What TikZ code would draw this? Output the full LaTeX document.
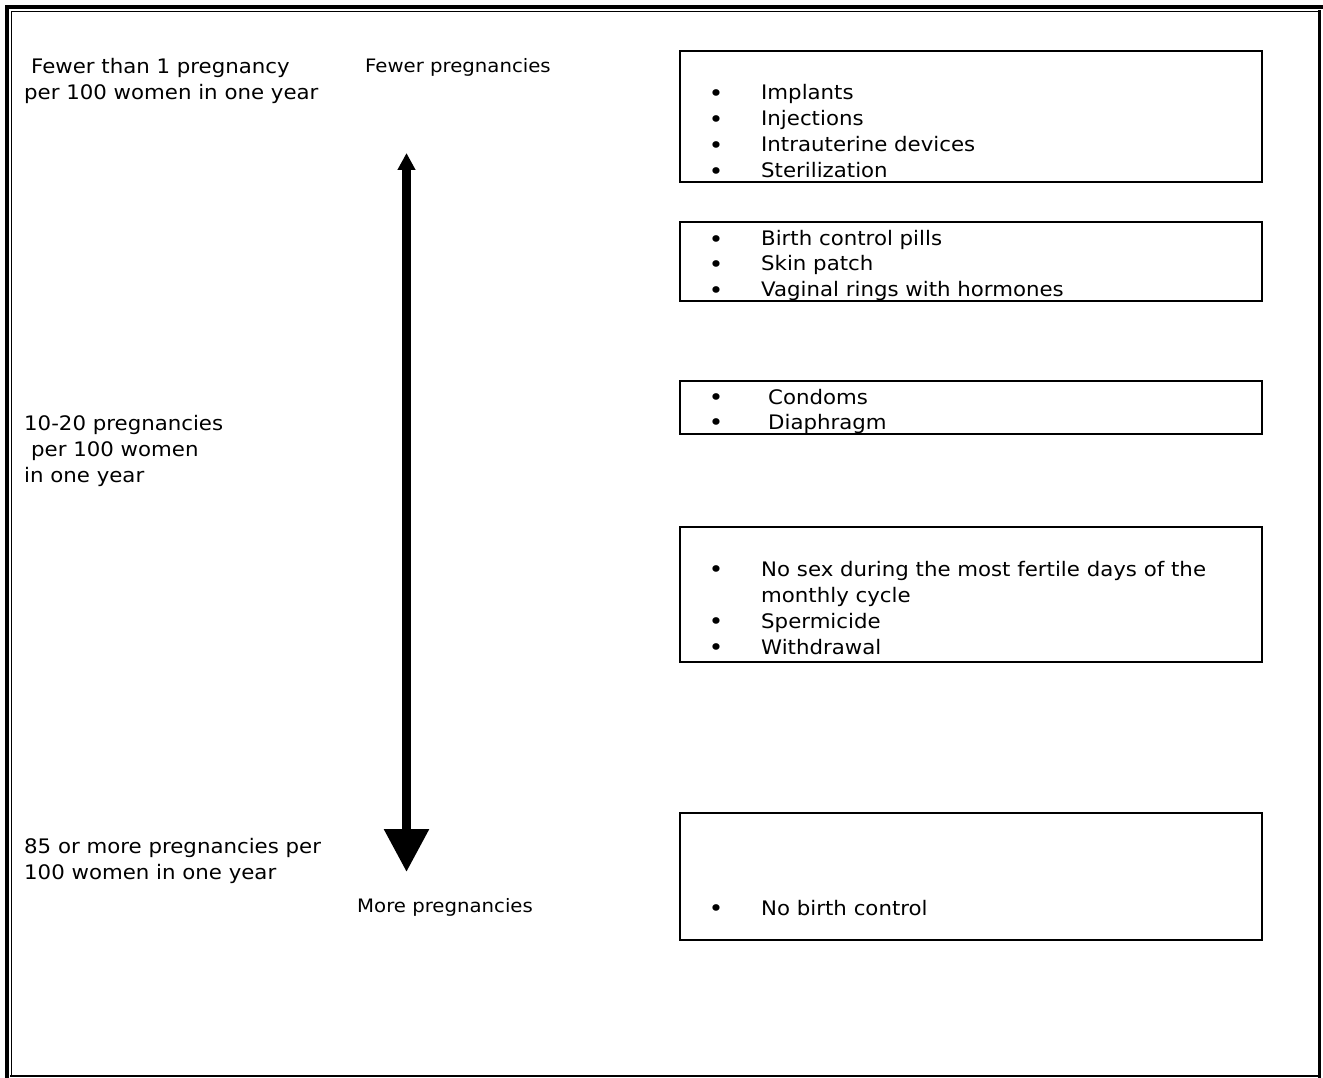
\documentclass[tikz,border=0pt]{standalone}
\usepackage{fontspec}
\setmainfont{DejaVu Sans}[FakeStretch=1.065]
\usetikzlibrary{arrows.meta}
\tikzset{
  lbl/.style={inner sep=0pt, anchor=base west, font=\fontsize{20}{26}\selectfont},
  small/.style={inner sep=0pt, anchor=base west, font=\fontsize{18.5}{24}\selectfont},
  bul/.style={inner sep=0pt, anchor=base, yshift=-1.5pt, font=\fontsize{23}{26}\selectfont},
  box/.style={draw, line width=2pt},
}
\begin{document}
\begin{tikzpicture}[x=1pt,y=-1pt]
\useasboundingbox (0,0) rectangle (1323,1078);
% page border
\draw[line width=4pt] (7,1078) -- (7,7) -- (1323,7);
\draw[line width=1.5pt] (11.5,1076) -- (11.5,11.5) -- (1319.5,11.5);
\draw[line width=3pt] (1319.5,10) -- (1319.5,1077.5);
\draw[line width=2.5pt] (10,1076) -- (1321,1076);
% left labels
\node[lbl] (l1a) at (31,74) {Fewer than 1 pregnancy};
\node[lbl] (l1b) at (24,100) {per 100 women in one year};
\node[lbl] (l2a) at (24,430) {10-20 pregnancies};
\node[lbl] (l2b) at (31,456) {per 100 women};
\node[lbl] (l2c) at (24,482) {in one year};
\node[lbl] (l3a) at (24,853) {85 or more pregnancies per};
\node[lbl] (l3b) at (24,879) {100 women in one year};
% arrow labels
\node[small] (fewer) at (365,73) {Fewer pregnancies};
\node[small] (more) at (357,912) {More pregnancies};
% arrow
\coordinate (atop) at (406.5,153);
\coordinate (abot) at (406.5,872);
\draw[line width=9pt, line cap=butt,
  {Triangle[width=17pt,length=17pt]}-{Triangle[width=43pt,length=43pt]}] (atop) -- (abot);
% boxes
\draw[box] (680,51) rectangle (1262,182);
\draw[box] (680,222) rectangle (1262,301);
\draw[box] (680,381) rectangle (1262,434);
\draw[box] (680,527) rectangle (1262,662);
\draw[box] (680,813) rectangle (1262,940);
% box 1
\node[bul] (b1a) at (716,100) {•}; \node[lbl] (t1a) at (761,100) {Implants};
\node[bul] (b1b) at (716,126) {•}; \node[lbl] (t1b) at (761,126) {Injections};
\node[bul] (b1c) at (716,152) {•}; \node[lbl] (t1c) at (761,152) {Intrauterine devices};
\node[bul] (b1d) at (716,178) {•}; \node[lbl] (t1d) at (761,178) {Sterilization};
% box 2
\node[bul] (b2a) at (716,246) {•}; \node[lbl] (t2a) at (761,246) {Birth control pills};
\node[bul] (b2b) at (716,271) {•}; \node[lbl] (t2b) at (761,271) {Skin patch};
\node[bul] (b2c) at (716,297) {•}; \node[lbl] (t2c) at (761,297) {Vaginal rings with hormones};
% box 3
\node[bul] (b3a) at (716,404) {•}; \node[lbl] (t3a) at (768,404) {Condoms};
\node[bul] (b3b) at (716,429) {•}; \node[lbl] (t3b) at (768,429) {Diaphragm};
% box 4
\node[bul] (b4a) at (716,576) {•}; \node[lbl] (t4a) at (761,576) {No sex during the most fertile days of the};
\node[lbl] (t4b) at (761,602) {monthly cycle};
\node[bul] (b4c) at (716,628) {•}; \node[lbl] (t4c) at (761,628) {Spermicide};
\node[bul] (b4d) at (716,654) {•}; \node[lbl] (t4d) at (761,654) {Withdrawal};
% box 5
\node[bul] (b5a) at (716,915) {•}; \node[lbl] (t5a) at (761,915) {No birth control};
\end{tikzpicture}
\end{document}
